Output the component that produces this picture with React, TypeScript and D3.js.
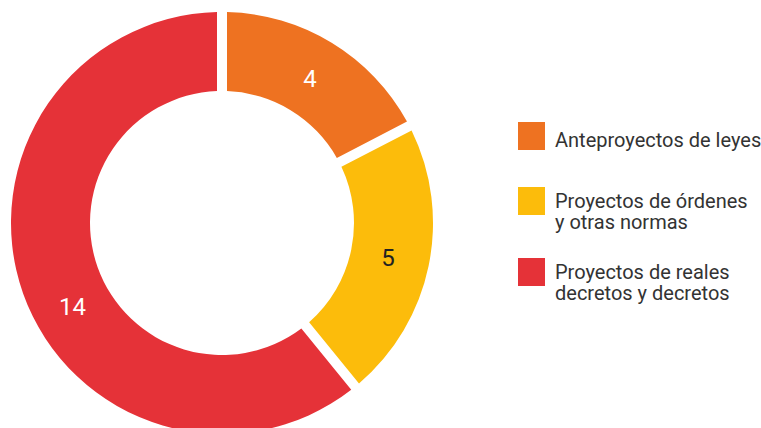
import React from "react";
import * as d3 from "d3";

const categories = ["Anteproyectos de leyes", "Proyectos de órdenes y otras normas", "Proyectos de reales decretos y decretos"];
const legendLines = [["Anteproyectos de leyes"], ["Proyectos de órdenes", "y otras normas"], ["Proyectos de reales", "decretos y decretos"]];
const values = [4, 5, 14];
const colors = ["#EE7221", "#FCBC0B", "#E53238"];
const labelColors = ["#ffffff", "#222222", "#ffffff"];

export default function App() {
  const W = 761, H = 428;
  const cx = 222, cy = 223;
  const outerR = 211, innerR = 132;
  const gap = 10;

  const pie = d3.pie<number>().sort(null).value((d) => d);
  const arcs = pie(values);
  const arcGen = d3.arc<d3.PieArcDatum<number>>()
    .innerRadius(innerR)
    .outerRadius(outerR)
    .padAngle(gap / outerR)
    .padRadius(outerR);

  const labelR = (innerR + outerR) / 2;

  const legendX = 518, sq = 28, textX = 555;
  const legendTops = [122, 187, 258];

  return (
    <svg width={W} height={H} style={{ position: "absolute", left: 0, top: 0 }} fontFamily="Roboto, sans-serif">
      <g transform={`translate(${cx},${cy})`}>
        {arcs.map((a, i) => (
          <path key={i} d={arcGen(a) || ""} fill={colors[i]} />
        ))}
        {arcs.map((a, i) => {
          let mid = (a.startAngle + a.endAngle) / 2;
          if (a.endAngle - a.startAngle > Math.PI) mid -= 0.17;
          const r = labelR - (a.endAngle - a.startAngle > Math.PI ? 0 : 2);
          const x = Math.sin(mid) * r;
          const y = -Math.cos(mid) * r;
          return (
            <text key={i} x={x} y={y} dy="0.35em" textAnchor="middle" fontSize={24} fill={labelColors[i]}>
              {values[i]}
            </text>
          );
        })}
      </g>
      {categories.map((c, i) => {
        const lines = legendLines[i];
        const base = legendTops[i] + (lines.length === 1 ? 25 : 21);
        return (
          <g key={c}>
            <rect x={legendX} y={legendTops[i]} width={sq - 1} height={sq} fill={colors[i]} />
            <text x={textX} y={base} fontSize={20} fill="#333333">
              {lines.map((l, j) => (
                <tspan key={j} x={textX} dy={j === 0 ? 0 : 21}>{l}</tspan>
              ))}
            </text>
          </g>
        );
      })}
    </svg>
  );
}
